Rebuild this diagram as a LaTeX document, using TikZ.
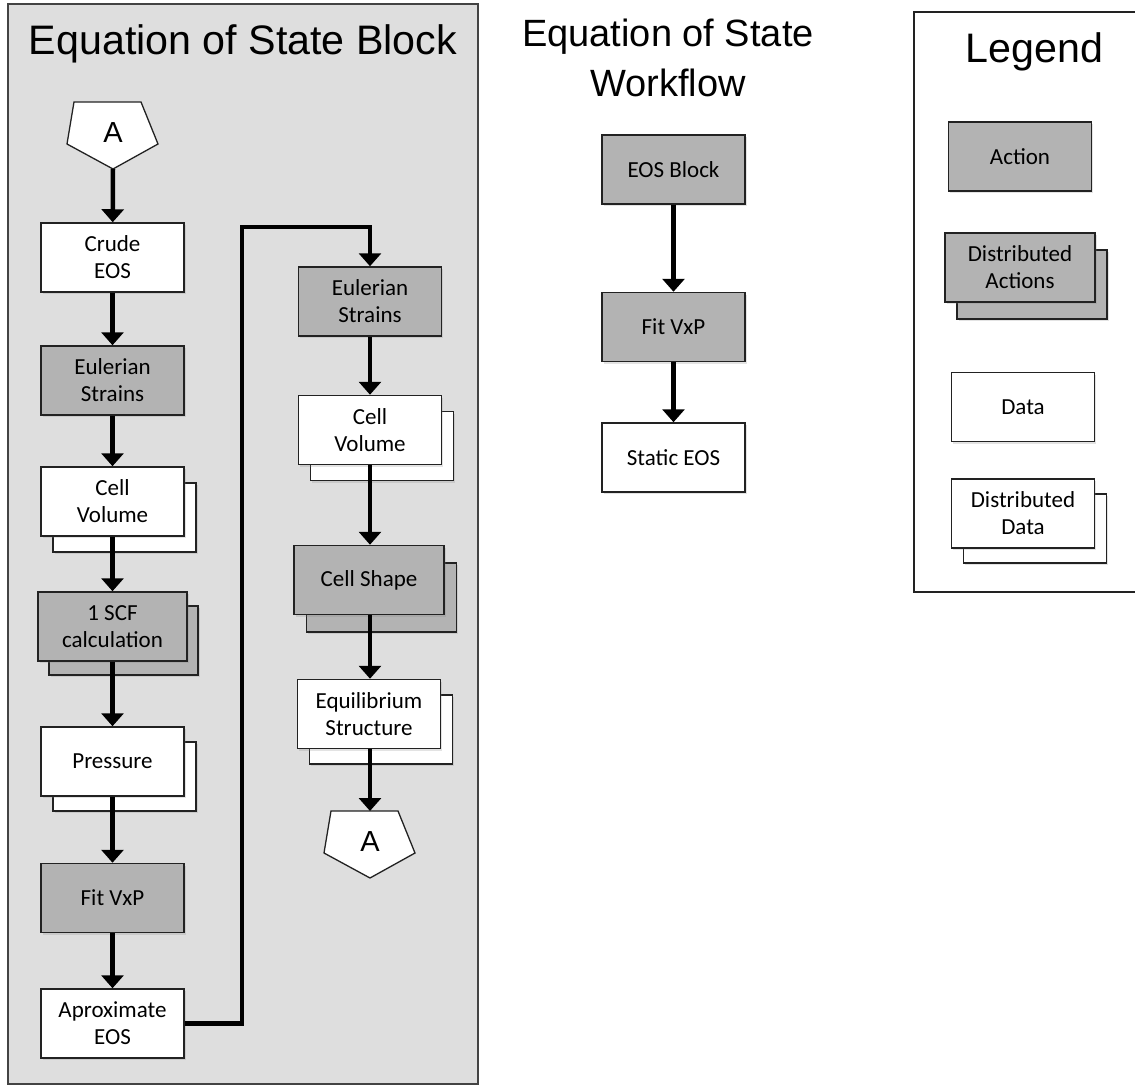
\documentclass[tikz,border=0pt]{standalone}
\usepackage{fontspec}
\setmainfont{Liberation Sans}
\newfontfamily\boxfont{Carlito}
\usetikzlibrary{arrows.meta,shadows}
\definecolor{panelgray}{HTML}{DEDEDE}
\definecolor{actgray}{HTML}{B3B3B3}
\definecolor{edge}{HTML}{222222}

\tikzset{
  box/.style={draw=edge, line width=1.5pt, minimum width=143pt, minimum height=69pt,
    inner sep=0pt, align=center, font=\boxfont\fontsize{23}{27}\selectfont,
    drop shadow={opacity=0.22, shadow xshift=1.5pt, shadow yshift=-2pt}},
  act/.style={box, fill=actgray},
  dat/.style={box, fill=white},
  flow/.style={line width=4.5pt, -{Triangle[width=22pt,length=13pt]}},
  title/.style={font=\fontsize{41.2}{48}\selectfont, anchor=base, inner sep=0pt},
  subtitle/.style={title, font=\fontsize{38}{46}\selectfont},
  connector/.style={draw=edge, fill=white, line width=1.3pt},
  letter/.style={font=\fontsize{29}{30}\selectfont, inner sep=0pt},
}

\begin{document}
\begin{tikzpicture}[x=1pt,y=-1pt]
\useasboundingbox (0,0) rectangle (1135,1086);

% ---------- Equation of State Block ----------
\draw[fill=panelgray, draw=edge!85, line width=1.5pt] (8,4) rectangle (478,1084);
\node[title] (blocktitle) at (243,55) {Equation of State Block};

% entry connector
\draw[connector] (74,102) -- (141,102) -- (158,144) -- (113,169) -- (67,144) -- cycle;
\node[letter] (pA) at (113,133) {A};
\coordinate (pAtip) at (113,169);

% left column
\node[dat] (crude) at (112.5,257.5) {Crude\\EOS};
\node[act] (eul1) at (112.5,380.5) {Eulerian\\Strains};
\node[dat] (cv1s) at (124.5,517.5) {};
\node[dat] (cv1) at (112.5,501.5) {Cell\\Volume};
\node[act, minimum width=149pt] (scfs) at (123.5,640.5) {};
\node[act, minimum width=149pt] (scf) at (112.5,626.5) {1 SCF\\calculation};
\node[dat] (press) at (124.5,776.5) {};
\node[dat] (pres) at (112.5,761.5) {Pressure};
\node[act] (fit1) at (112.5,898) {Fit VxP};
\node[dat] (aprox) at (112.5,1023.5) {Aproximate\\EOS};

% right column
\node[act] (eul2) at (370,301.5) {Eulerian\\Strains};
\node[dat] (cv2s) at (382,446) {};
\node[dat] (cv2) at (370,430) {Cell\\Volume};
\node[act, minimum width=150pt] (shapes) at (381.5,597.5) {};
\node[act, minimum width=150pt] (shape) at (369,580) {Cell Shape};
\node[dat] (equils) at (381,729.5) {};
\node[dat] (equil) at (369,714) {Equilibrium\\Structure};

% exit connector
\draw[connector] (331,811) -- (398,811) -- (415,853) -- (370,878) -- (324,853) -- cycle;
\node[letter] (pB) at (370,842) {A};
\coordinate (pBtop) at (370,811);

% flow of the block
\coordinate (bend) at (242,227);
\draw[flow] (pAtip) -- (crude);
\draw[flow] (crude) -- (eul1);
\draw[flow] (eul1) -- (cv1);
\draw[flow] (cv1) -- (scf);
\draw[flow] (scf) -- (pres);
\draw[flow] (pres) -- (fit1);
\draw[flow] (fit1) -- (aprox);
\draw[flow] (aprox.east) -| (bend) -| (eul2.north);
\draw[flow] (eul2) -- (cv2);
\draw[flow] (cv2) -- (shape.north -| cv2.south);
\draw[flow] (shape.south -| cv2.south) -- (equil.north -| cv2.south);
\draw[flow] (equil.south -| cv2.south) -- (pBtop);

% ---------- Equation of State Workflow ----------
\node[subtitle] (wt1) at (668,47) {Equation of State};
\node[subtitle] (wt2) at (668,97) {Workflow};
\node[act] (wblock) at (673.5,169.5) {EOS Block};
\node[act] (wfit) at (673.5,327) {Fit VxP};
\node[dat] (wstatic) at (673.5,457.5) {Static EOS};
\draw[flow] (wblock) -- (wfit);
\draw[flow] (wfit) -- (wstatic);

% ---------- Legend ----------
\draw[draw=edge, line width=1.3pt] (1140,12) -- (914,12) -- (914,592) -- (1140,592);
\node[title] (legtitle) at (1034.5,63) {Legend};
\node[act] (lact) at (1020,156.5) {Action};
\node[act, minimum width=150pt] (ldacts) at (1032,284.5) {};
\node[act, minimum width=150pt] (ldact) at (1020,267.5) {Distributed\\Actions};
\node[dat] (ldata) at (1023,407) {Data};
\node[dat] (lddatas) at (1035,528.5) {};
\node[dat] (lddata) at (1023,513.5) {Distributed\\Data};
\end{tikzpicture}
\end{document}
